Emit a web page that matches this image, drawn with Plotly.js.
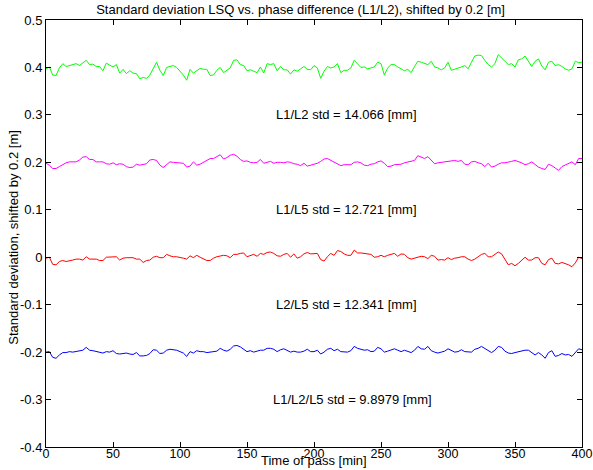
<!DOCTYPE html>
<html>
<head>
<meta charset="utf-8">
<script src="https://cdn.plot.ly/plotly-3.0.1.min.js"></script>
<style>html,body{margin:0;padding:0;background:#fff;}#chart{width:593px;height:470px;}</style>
</head>
<body>
<div id="chart"></div>
<script>
const timeMin = [0,2.5,5,7.5,10,12.5,15,17.5,20,22.5,25,27.5,30,32.5,35,37.5,40,42.5,45,47.5,
50,52.5,55,57.5,60,62.5,65,67.5,70,72.5,75,77.5,80,82.5,85,87.5,90,92.5,95,97.5,
100,102.5,105,107.5,110,112.5,115,117.5,120,122.5,125,127.5,130,132.5,135,137.5,140,142.5,145,147.5,
150,152.5,155,157.5,160,162.5,165,167.5,170,172.5,175,177.5,180,182.5,185,187.5,190,192.5,195,197.5,
200,202.5,205,207.5,210,212.5,215,217.5,220,222.5,225,227.5,230,232.5,235,237.5,240,242.5,245,247.5,
250,252.5,255,257.5,260,262.5,265,267.5,270,272.5,275,277.5,280,282.5,285,287.5,290,292.5,295,297.5,
300,302.5,305,307.5,310,312.5,315,317.5,320,322.5,325,327.5,330,332.5,335,337.5,340,342.5,345,347.5,
350,352.5,355,357.5,360,362.5,365,367.5,370,372.5,375,377.5,380,382.5,385,387.5,390,392.5,395,397.5,400];

const l1l2 = [0.397,0.401,0.384,0.383,0.399,0.408,0.402,0.404,0.407,0.408,
0.404,0.409,0.415,0.406,0.407,0.402,0.402,0.393,0.409,0.405,
0.401,0.406,0.388,0.396,0.387,0.393,0.388,0.387,0.376,0.379,
0.377,0.384,0.399,0.411,0.394,0.383,0.400,0.402,0.404,0.400,
0.392,0.384,0.373,0.396,0.388,0.394,0.398,0.396,0.396,0.383,
0.384,0.394,0.400,0.389,0.395,0.399,0.415,0.416,0.406,0.404,
0.393,0.395,0.392,0.389,0.401,0.388,0.408,0.406,0.408,0.393,
0.402,0.395,0.395,0.386,0.395,0.392,0.397,0.402,0.396,0.395,
0.404,
0.399,0.377,0.392,0.402,0.399,0.401,0.408,0.389,0.394,0.394,
0.399,0.415,0.408,0.400,0.401,0.397,0.399,0.401,0.411,0.408,
0.384,0.399,0.406,0.406,0.401,0.397,0.393,0.396,0.389,0.402,
0.413,0.411,0.408,0.406,0.413,0.401,0.399,0.395,0.399,0.411,
0.394,0.396,0.399,0.401,0.404,0.397,0.411,0.424,0.426,0.425,
0.415,0.406,0.401,0.408,0.427,0.420,0.411,0.406,0.408,0.401,
0.416,0.418,0.424,0.413,0.402,0.413,0.418,0.403,0.395,0.411,
0.413,0.404,0.406,0.402,0.397,0.394,0.397,0.413,0.410,0.411];

const l1l5 = [0.198,0.194,0.187,0.187,0.191,0.195,0.199,0.201,0.201,0.201,
0.205,0.211,0.212,0.206,0.206,0.201,0.201,0.201,0.197,0.196,
0.199,0.195,0.197,0.196,0.191,0.189,0.190,0.196,0.194,0.195,
0.197,0.205,0.206,0.204,0.194,0.189,0.195,0.201,0.200,0.199,
0.198,0.198,0.190,0.192,0.201,0.194,0.196,0.200,0.205,0.208,
0.208,0.212,0.216,0.207,0.210,0.215,0.217,0.213,0.206,0.202,
0.203,0.200,0.199,0.200,0.206,0.198,0.200,0.202,0.198,0.200,
0.200,0.199,0.201,0.200,0.197,0.196,0.193,0.198,0.192,0.194,
0.197,
0.198,0.202,0.207,0.208,0.204,0.201,0.196,0.193,0.195,0.195,
0.195,0.200,0.201,0.199,0.194,0.193,0.196,0.197,0.201,0.203,
0.198,0.191,0.192,0.195,0.196,0.196,0.199,0.201,0.203,0.204,
0.214,0.211,0.208,0.212,0.205,0.197,0.199,0.200,0.202,0.203,
0.204,0.204,0.202,0.204,0.196,0.195,0.201,0.202,0.199,0.197,
0.191,0.198,0.190,0.192,0.196,0.199,0.199,0.200,0.202,0.204,
0.202,0.199,0.195,0.197,0.201,0.196,0.190,0.187,0.185,0.196,
0.193,0.188,0.183,0.191,0.194,0.198,0.201,0.195,0.208,0.208];

const l2l5 = [-0.002,0.000,-0.015,-0.016,-0.009,-0.007,-0.009,-0.008,-0.006,-0.004,
-0.004,-0.006,0.001,-0.004,-0.004,-0.004,-0.007,-0.007,0.000,0.000,
0.001,0.001,-0.006,-0.002,-0.001,-0.001,-0.001,-0.004,-0.004,-0.011,
-0.007,-0.006,0.000,0.002,-0.001,-0.001,0.006,0.003,0.001,0.001,
0.000,-0.002,-0.004,0.003,-0.001,0.004,0.000,-0.004,-0.007,-0.007,
-0.002,0.001,0.002,0.004,0.003,-0.001,0.006,0.006,0.008,0.009,
0.001,0.004,0.006,0.002,0.008,0.006,0.010,0.011,0.008,0.003,
0.002,0.006,0.008,0.000,0.007,-0.002,0.001,0.007,0.010,0.007,
0.008,
0.008,-0.005,-0.008,0.001,0.008,0.004,0.014,0.012,0.007,0.004,
0.004,0.015,0.009,0.009,0.008,0.008,0.006,0.000,0.001,0.004,
0.001,0.004,0.006,0.008,0.002,0.007,0.006,-0.001,-0.004,-0.002,
0.000,0.002,0.001,-0.003,0.004,0.002,-0.006,-0.005,-0.006,-0.001,
-0.005,-0.002,-0.001,0.001,0.001,-0.004,-0.007,-0.004,0.001,0.006,
0.008,0.001,0.001,0.006,0.011,0.007,-0.006,-0.016,-0.013,-0.018,
-0.013,-0.006,0.000,-0.006,-0.006,-0.001,-0.001,-0.013,-0.016,-0.005,
-0.002,-0.013,-0.014,-0.011,-0.013,-0.016,-0.020,-0.012,0.000,-0.003];

const l1l2l5 = [-0.200,-0.199,-0.211,-0.213,-0.206,-0.201,-0.201,-0.199,-0.200,-0.199,
-0.198,-0.196,-0.190,-0.196,-0.197,-0.199,-0.200,-0.202,-0.199,-0.200,
-0.197,-0.203,-0.204,-0.203,-0.202,-0.204,-0.205,-0.201,-0.208,-0.208,
-0.207,-0.203,-0.195,-0.196,-0.203,-0.202,-0.196,-0.194,-0.195,-0.196,
-0.199,-0.202,-0.209,-0.199,-0.202,-0.197,-0.199,-0.199,-0.201,-0.200,
-0.199,-0.198,-0.192,-0.196,-0.198,-0.194,-0.187,-0.186,-0.189,-0.194,
-0.199,-0.197,-0.200,-0.198,-0.196,-0.196,-0.192,-0.192,-0.194,-0.199,
-0.195,-0.193,-0.197,-0.200,-0.198,-0.200,-0.200,-0.198,-0.194,-0.199,
-0.199,
-0.196,-0.204,-0.200,-0.194,-0.192,-0.197,-0.194,-0.199,-0.199,-0.200,
-0.197,-0.188,-0.192,-0.194,-0.196,-0.195,-0.199,-0.198,-0.190,-0.193,
-0.200,-0.198,-0.195,-0.193,-0.196,-0.199,-0.196,-0.199,-0.201,-0.196,
-0.188,-0.193,-0.194,-0.188,-0.197,-0.200,-0.202,-0.200,-0.198,-0.193,
-0.197,-0.200,-0.199,-0.195,-0.199,-0.200,-0.200,-0.194,-0.192,-0.188,
-0.192,-0.197,-0.201,-0.196,-0.188,-0.190,-0.198,-0.202,-0.203,-0.201,
-0.199,-0.197,-0.196,-0.196,-0.201,-0.206,-0.201,-0.206,-0.213,-0.201,
-0.197,-0.209,-0.207,-0.203,-0.206,-0.205,-0.209,-0.201,-0.193,-0.195];

const seriesNames = ["L1/L2", "L1/L5", "L2/L5", "L1/L2/L5"];
const seriesColors = ["#00ff00", "#ff00ff", "#ff0000", "#0000ff"];
const seriesValues = [l1l2, l1l5, l2l5, l1l2l5];

const stdLabels = ["L1/L2 std = 14.066 [mm]", "L1/L5 std = 12.721 [mm]", "L2/L5 std = 12.341 [mm]", "L1/L2/L5 std = 9.8979 [mm]"];
const stdLabelX = [170, 170, 170, 168];
const stdLabelY = [0.3, 0.1, -0.1, -0.3];

const xTickVals = [0, 50, 100, 150, 200, 250, 300, 350, 400];
const yTickVals = [-0.4, -0.3, -0.2, -0.1, 0, 0.1, 0.2, 0.3, 0.4, 0.5];
const yTickText = ["-0.4", "-0.3", "-0.2", "-0.1", "0", "0.1", "0.2", "0.3", "0.4", "0.5"];

const FONT = "Liberation Sans, Arial, Helvetica, sans-serif";

const traces = seriesValues.map((vals, i) => ({
  type: "scatter",
  mode: "lines",
  name: seriesNames[i],
  x: timeMin,
  y: vals,
  line: { color: seriesColors[i], width: 1 },
  hoverinfo: "x+y+name"
}));

const annotations = stdLabels.map((t, i) => ({
  x: stdLabelX[i], y: stdLabelY[i], xref: "x", yref: "y",
  text: t, showarrow: false, xanchor: "left", yanchor: "middle",
  font: { family: FONT, size: 13, color: "#000" }
}));

annotations.push({
  xref: "paper", yref: "paper", x: 0.5, y: 0, yanchor: "bottom", xanchor: "center",
  yshift: -23, text: "Time of pass [min]", showarrow: false,
  font: { family: FONT, size: 13, color: "#000" }
});
annotations.push({
  xref: "paper", yref: "paper", x: 0, y: 0.49, xanchor: "center", yanchor: "middle",
  xshift: -32, textangle: -90, text: "Standard deviation, shifted by 0.2 [m]", showarrow: false,
  font: { family: FONT, size: 13, color: "#000" }
});

const layout = {
  width: 593, height: 470,
  margin: { l: 46, r: 11, t: 20, b: 23, pad: 0 },
  paper_bgcolor: "#fff", plot_bgcolor: "#fff",
  showlegend: false,
  font: { family: FONT, size: 13, color: "#000" },
  title: {
    text: "Standard deviation LSQ vs. phase difference (L1/L2), shifted by 0.2 [m]",
    font: { family: FONT, size: 13, color: "#000" },
    xref: "paper", x: 0.475, xanchor: "center",
    yref: "container", y: 0.979, yanchor: "middle"
  },
  xaxis: {
    range: [0, 400], tickvals: xTickVals, ticktext: xTickVals.map(String),
    ticks: "inside", ticklen: 5, tickcolor: "#000", tickwidth: 1,
    showline: true, linecolor: "#000", linewidth: 1, mirror: "ticks",
    showgrid: false, zeroline: false,
    ticklabelposition: "outside", ticklabelstandoff: -5,
    tickfont: { family: FONT, size: 12.5, color: "#000" },
    automargin: false
  },
  yaxis: {
    range: [-0.4, 0.5], tickvals: yTickVals, ticktext: yTickText,
    ticks: "inside", ticklen: 5, tickcolor: "#000", tickwidth: 1,
    showline: true, linecolor: "#000", linewidth: 1, mirror: "ticks",
    showgrid: false, zeroline: false,
    tickfont: { family: FONT, size: 13, color: "#000" },
    automargin: false
  },
  annotations: annotations
};

Plotly.newPlot("chart", traces, layout, { displayModeBar: false, staticPlot: true });
</script>
</body>
</html>
